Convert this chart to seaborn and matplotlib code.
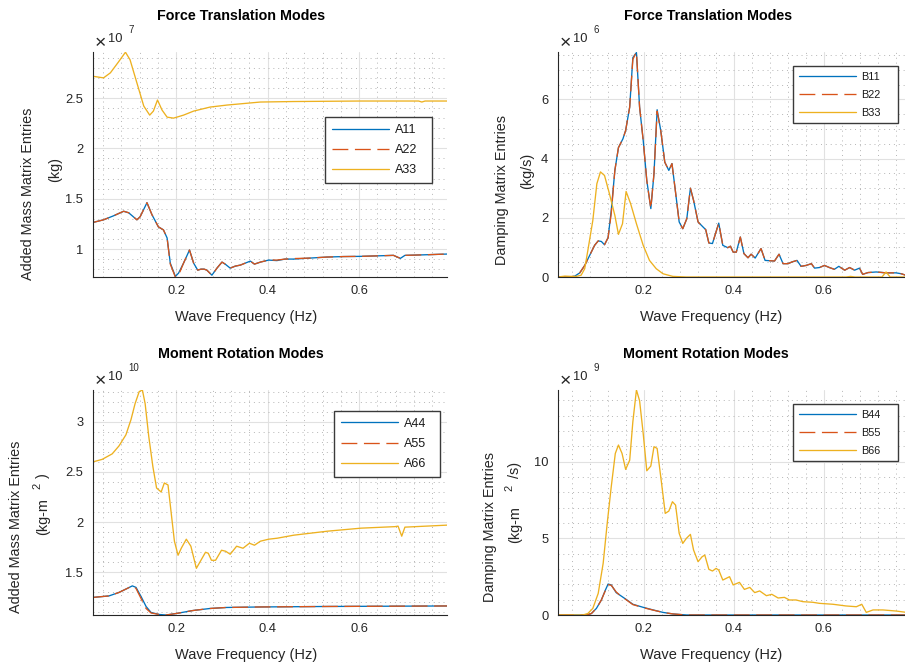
import matplotlib
matplotlib.use("Agg")
import matplotlib.pyplot as plt
import seaborn as sns
from matplotlib.ticker import MultipleLocator, FuncFormatter

# ---------------------------------------------------------------------------
# Hydrodynamic coefficients vs. wave frequency (Hz)
# Added mass translation  [x1e7 kg],   damping translation [x1e6 kg/s]
# Added mass rotation     [x1e10 kg-m^2], damping rotation [x1e9 kg-m^2/s]
# ---------------------------------------------------------------------------
f_a11 = [0.019, 0.041, 0.063, 0.085, 0.096, 0.114, 0.121, 0.136, 0.147, 0.161,
         0.172, 0.180, 0.187, 0.198, 0.205, 0.216, 0.229, 0.238, 0.247, 0.254,
         0.261, 0.267, 0.278, 0.289, 0.300, 0.307, 0.318, 0.329, 0.340, 0.351,
         0.362, 0.371, 0.384, 0.402, 0.420, 0.438, 0.456, 0.493, 0.529, 0.565,
         0.602, 0.640, 0.675, 0.690, 0.700, 0.740, 0.792]
a11 = [1.265, 1.29, 1.33, 1.375, 1.36, 1.29, 1.32, 1.46, 1.34, 1.22,
       1.19, 1.11, 0.86, 0.728, 0.76, 0.86, 0.99, 0.86, 0.79, 0.80,
       0.80, 0.79, 0.74, 0.81, 0.87, 0.85, 0.81, 0.83, 0.84, 0.86,
       0.88, 0.85, 0.87, 0.89, 0.885, 0.90, 0.90, 0.91, 0.92, 0.925,
       0.927, 0.932, 0.937, 0.907, 0.937, 0.942, 0.95]
a22 = [1.265, 1.29, 1.33, 1.375, 1.36, 1.29, 1.32, 1.46, 1.34, 1.22,
       1.19, 1.11, 0.85, 0.722, 0.74, 0.86, 0.99, 0.86, 0.79, 0.80,
       0.80, 0.79, 0.74, 0.81, 0.87, 0.85, 0.81, 0.83, 0.84, 0.86,
       0.88, 0.85, 0.87, 0.89, 0.89, 0.90, 0.905, 0.91, 0.92, 0.925,
       0.927, 0.932, 0.937, 0.907, 0.937, 0.942, 0.95]
f_a33 = [0.019, 0.041, 0.056, 0.074, 0.089, 0.099, 0.114, 0.129, 0.142, 0.150,
         0.159, 0.169, 0.180, 0.194, 0.216, 0.238, 0.274, 0.311, 0.384, 0.456,
         0.602, 0.730, 0.737, 0.744, 0.792]
a33 = [2.715, 2.70, 2.75, 2.86, 2.955, 2.88, 2.65, 2.42, 2.33, 2.37,
       2.48, 2.38, 2.31, 2.30, 2.33, 2.37, 2.41, 2.43, 2.46, 2.465,
       2.47, 2.47, 2.46, 2.47, 2.47]

f_b11 = [0.0096, 0.036, 0.047, 0.058, 0.069, 0.080, 0.091, 0.099, 0.106, 0.113,
         0.121, 0.128, 0.136, 0.144, 0.154, 0.160, 0.169, 0.176, 0.184, 0.191,
         0.199, 0.207, 0.216, 0.223, 0.230, 0.238, 0.247, 0.256, 0.263, 0.270,
         0.279, 0.287, 0.296, 0.304, 0.311, 0.321, 0.332, 0.338, 0.345, 0.353,
         0.367, 0.376, 0.387, 0.393, 0.399, 0.406, 0.415, 0.423, 0.432, 0.439,
         0.448, 0.461, 0.470, 0.491, 0.501, 0.510, 0.521, 0.530, 0.541, 0.550,
         0.561, 0.573, 0.580, 0.591, 0.602, 0.613, 0.624, 0.634, 0.647, 0.658,
         0.669, 0.680, 0.687, 0.699, 0.717, 0.739, 0.761, 0.773, 0.790]
b11 = [0, 0, 0.03, 0.14, 0.39, 0.73, 1.07, 1.22, 1.20, 1.09,
       1.33, 2.25, 3.6, 4.37, 4.67, 4.95, 5.74, 7.41, 7.58, 5.74,
       4.62, 3.26, 2.31, 3.49, 5.65, 4.95, 3.88, 3.6, 3.83, 2.98,
       1.86, 1.63, 1.97, 3.0, 2.59, 1.86, 1.69, 1.60, 1.15, 1.13,
       1.82, 1.07, 0.99, 1.04, 0.84, 0.84, 1.35, 0.79, 0.65, 0.77,
       0.64, 0.96, 0.56, 0.54, 0.77, 0.45, 0.45, 0.51, 0.56, 0.36,
       0.39, 0.45, 0.30, 0.32, 0.39, 0.32, 0.26, 0.36, 0.23, 0.32,
       0.23, 0.30, 0.09, 0.15, 0.17, 0.14, 0.14, 0.11, 0.02]
b22 = [0, 0, 0.03, 0.14, 0.39, 0.73, 1.07, 1.22, 1.20, 1.09,
       1.33, 2.15, 3.6, 4.37, 4.67, 4.95, 5.74, 7.35, 7.60, 5.74,
       4.62, 3.26, 2.31, 3.49, 5.60, 4.95, 3.88, 3.6, 3.83, 2.98,
       1.86, 1.63, 1.97, 3.0, 2.59, 1.86, 1.69, 1.60, 1.15, 1.13,
       1.82, 1.07, 0.99, 1.04, 0.84, 0.84, 1.35, 0.79, 0.65, 0.77,
       0.64, 0.96, 0.56, 0.54, 0.77, 0.45, 0.45, 0.51, 0.56, 0.36,
       0.39, 0.45, 0.30, 0.32, 0.39, 0.32, 0.26, 0.36, 0.23, 0.32,
       0.23, 0.30, 0.09, 0.15, 0.17, 0.14, 0.14, 0.11, 0.02]
f_b33 = [0.0096, 0.025, 0.040, 0.050, 0.061, 0.069, 0.076, 0.087, 0.096, 0.104,
         0.113, 0.124, 0.136, 0.144, 0.153, 0.161, 0.171, 0.184, 0.199, 0.213,
         0.228, 0.243, 0.265, 0.295, 0.400, 0.500, 0.650, 0.660, 0.670, 0.730,
         0.739, 0.748, 0.790]
b33 = [0, 0.03, 0.02, 0.02, 0.06, 0.28, 0.90, 1.91, 3.15, 3.55,
       3.43, 2.81, 2.08, 1.44, 1.80, 2.89, 2.48, 1.80, 1.07, 0.56,
       0.28, 0.11, 0.02, 0, 0, 0, 0, 0.02, 0, 0,
       0.17, 0, 0]

f_a44 = [0.018, 0.053, 0.075, 0.093, 0.104, 0.112, 0.123, 0.134, 0.145, 0.163,
         0.178, 0.200, 0.237, 0.274, 0.310, 0.384, 0.531, 0.792]
a44 = [1.25, 1.265, 1.30, 1.34, 1.365, 1.35, 1.26, 1.16, 1.10, 1.08,
       1.075, 1.09, 1.12, 1.14, 1.15, 1.155, 1.16, 1.165]
a55 = [1.25, 1.265, 1.30, 1.34, 1.365, 1.34, 1.24, 1.14, 1.095, 1.08,
       1.075, 1.09, 1.12, 1.14, 1.15, 1.155, 1.16, 1.165]
f_a66 = [0.018, 0.038, 0.060, 0.075, 0.090, 0.101, 0.110, 0.119, 0.126, 0.132,
         0.140, 0.149, 0.157, 0.167, 0.174, 0.182, 0.189, 0.196, 0.204, 0.211,
         0.222, 0.232, 0.244, 0.254, 0.264, 0.270, 0.277, 0.286, 0.299, 0.308,
         0.318, 0.332, 0.346, 0.360, 0.371, 0.384, 0.402, 0.421, 0.457, 0.494,
         0.531, 0.604, 0.678, 0.685, 0.693, 0.700, 0.792]
a66 = [2.60, 2.625, 2.68, 2.76, 2.87, 3.02, 3.18, 3.30, 3.316, 3.18,
       2.85, 2.55, 2.34, 2.30, 2.39, 2.37, 2.09, 1.81, 1.67, 1.74,
       1.83, 1.76, 1.54, 1.62, 1.70, 1.69, 1.62, 1.62, 1.72, 1.71,
       1.68, 1.76, 1.74, 1.79, 1.77, 1.81, 1.83, 1.84, 1.87, 1.89,
       1.91, 1.94, 1.955, 1.96, 1.86, 1.95, 1.97]

f_b44 = [0.0096, 0.073, 0.084, 0.095, 0.106, 0.115, 0.121, 0.128, 0.139, 0.150,
         0.161, 0.176, 0.199, 0.221, 0.243, 0.265, 0.295, 0.790]
b44 = [0, 0, 0.1, 0.43, 0.98, 1.63, 2.02, 1.96, 1.46, 1.24,
       1.02, 0.70, 0.50, 0.33, 0.17, 0.07, 0, 0]
b55 = [0, 0, 0.1, 0.43, 0.98, 1.60, 1.98, 1.94, 1.50, 1.22,
       1.00, 0.68, 0.48, 0.32, 0.17, 0.07, 0, 0]
f_b66 = [0.0096, 0.065, 0.076, 0.087, 0.099, 0.110, 0.119, 0.128, 0.137, 0.144,
         0.152, 0.160, 0.169, 0.176, 0.184, 0.191, 0.199, 0.207, 0.216, 0.223,
         0.230, 0.239, 0.248, 0.256, 0.264, 0.271, 0.279, 0.287, 0.295, 0.304,
         0.311, 0.321, 0.330, 0.336, 0.345, 0.353, 0.361, 0.367, 0.376, 0.391,
         0.399, 0.413, 0.424, 0.436, 0.447, 0.458, 0.473, 0.485, 0.499, 0.513,
         0.524, 0.539, 0.554, 0.576, 0.591, 0.621, 0.650, 0.673, 0.685, 0.695,
         0.710, 0.732, 0.761, 0.790]
b66 = [0, 0, 0.1, 0.43, 1.41, 3.37, 5.98, 8.37, 10.54, 11.09,
       10.54, 9.5, 10.1, 12.6, 14.68, 13.98, 11.85, 9.41, 9.72, 10.98,
       10.87, 8.80, 6.63, 6.78, 7.39, 7.17, 5.33, 4.67, 5.0, 5.26,
       4.24, 3.48, 3.80, 3.91, 2.98, 2.87, 3.04, 2.93, 2.28, 2.5,
       1.96, 2.13, 1.67, 1.80, 1.46, 1.57, 1.26, 1.35, 1.11, 1.15,
       0.98, 0.98, 0.87, 0.83, 0.76, 0.70, 0.59, 0.54, 0.70, 0.17,
       0.33, 0.33, 0.26, 0.15]

x_ticks = [0.2, 0.4, 0.6]
titles = ["Force Translation Modes", "Force Translation Modes",
          "Moment Rotation Modes", "Moment Rotation Modes"]
xlabel = "Wave Frequency (Hz)"

# ---------------------------------------------------------------------------
BLUE, ORANGE, YELLOW = "#0072BD", "#D95319", "#EDB120"
AX_COL = "#262626"
W, H = 905, 666

sns.set_theme(style="white")
plt.rcParams["font.family"] = ["Liberation Sans", "DejaVu Sans"]
plt.rcParams["axes.unicode_minus"] = False

fig = plt.figure(figsize=(W / 100, H / 100), dpi=100)
fig.patch.set_facecolor("white")


def fx(x):
    return x / W


def fy(y):
    return 1 - y / H


def make_axes(left, top, width, height):
    return fig.add_axes([fx(left), fy(top + height), width / W, height / H])


def style_axes(ax, xlim, ylim, yticks, ymajor, yminor):
    ax.set_xlim(*xlim)
    ax.set_ylim(*ylim)
    ax.set_xticks(x_ticks)
    ax.set_yticks(yticks)
    ax.xaxis.set_minor_locator(MultipleLocator(0.04))
    ax.yaxis.set_minor_locator(MultipleLocator(yminor))
    ax.xaxis.set_major_formatter(FuncFormatter(lambda v, p: f"{v:g}"))
    ax.yaxis.set_major_formatter(FuncFormatter(lambda v, p: f"{v:g}"))
    for side in ("top", "right"):
        ax.spines[side].set_visible(False)
    for side in ("left", "bottom"):
        ax.spines[side].set_color(AX_COL)
        ax.spines[side].set_linewidth(0.8)
    ax.tick_params(which="major", direction="in", length=3.5, width=0.6,
                   colors=AX_COL, labelsize=9.3)
    ax.tick_params(which="minor", direction="in", length=2, width=0.5,
                   colors=AX_COL)
    ax.tick_params(axis="x", which="major", pad=6)
    ax.tick_params(axis="y", which="major", pad=7)
    ax.set_axisbelow(True)
    ax.grid(which="major", color="#e1e1e1", linewidth=0.8, linestyle="-")
    ax.grid(which="minor", color="#b5b5b5", linewidth=0.7,
            linestyle=(0, (1, 4)))
    ax.set_xlabel("")
    ax.set_ylabel("")


def draw_series(ax, series):
    for name, f, v, color, ls in series:
        sns.lineplot(x=f, y=v, ax=ax, color=color, linestyle=ls,
                     linewidth=0.95, estimator=None, sort=False, label=name)


def add_legend(ax, x0, ytop, width, fontsize, spacing, handlelen):
    leg = ax.legend(loc="upper left", bbox_to_anchor=(x0, ytop, width, 0),
                    mode="expand", borderaxespad=0, fontsize=fontsize,
                    frameon=True, fancybox=False, framealpha=1,
                    edgecolor="#3a3a3a", borderpad=0.55,
                    labelspacing=spacing, handlelength=handlelen,
                    handletextpad=0.45)
    leg.get_frame().set_linewidth(1.0)
    for t in leg.get_texts():
        t.set_color("#1a1a1a")


def exponent(left, top, power):
    fig.text(fx(left + 7), fy(top - 8.5), "\u00d7", ha="center",
             va="center", fontsize=14, color=AX_COL)
    fig.text(fx(left + 14.5), fy(top - 10), "10", ha="left", va="baseline",
             fontsize=9.3, color=AX_COL)
    fig.text(fx(left + 35.5), fy(top - 19), power, ha="left", va="baseline",
             fontsize=7, color=AX_COL)


def vtext(x, y, s, size=10.4):
    fig.text(fx(x), fy(y), s, rotation=90, ha="center", va="center",
             fontsize=size, color=AX_COL)


DASH = (0, (12, 5))

# --- Added mass, translation ---
ax1 = make_axes(93, 52, 354, 225)
draw_series(ax1, [("A11", f_a11, a11, BLUE, "-"),
                  ("A22", f_a11, a22, ORANGE, DASH),
                  ("A33", f_a33, a33, YELLOW, "-")])
style_axes(ax1, (0.018, 0.792), (0.722, 2.957), [1, 1.5, 2, 2.5], 0.5, 0.1)
add_legend(ax1, 0.655, 0.711, 0.302, 9, 0.65, 4.6)

# --- Damping, translation ---
ax2 = make_axes(558, 52, 351, 225)
draw_series(ax2, [("B11", f_b11, b11, BLUE, "-"),
                  ("B22", f_b11, b22, ORANGE, DASH),
                  ("B33", f_b33, b33, YELLOW, "-")])
style_axes(ax2, (0.0096, 0.79), (0, 7.6), [0, 2, 4, 6], 2, 0.5)
add_legend(ax2, 0.6695, 0.938, 0.299, 7.8, 0.72, 5.3)

# --- Added mass, rotation ---
ax3 = make_axes(93, 390, 354, 225)
draw_series(ax3, [("A44", f_a44, a44, BLUE, "-"),
                  ("A55", f_a44, a55, ORANGE, DASH),
                  ("A66", f_a66, a66, YELLOW, "-")])
style_axes(ax3, (0.018, 0.792), (1.075, 3.316), [1.5, 2, 2.5, 3], 0.5, 0.1)
add_legend(ax3, 0.681, 0.907, 0.299, 9, 0.65, 4.6)

# --- Damping, rotation ---
ax4 = make_axes(558, 390, 351, 225)
draw_series(ax4, [("B44", f_b44, b44, BLUE, "-"),
                  ("B55", f_b44, b55, ORANGE, DASH),
                  ("B66", f_b66, b66, YELLOW, "-")])
style_axes(ax4, (0.0096, 0.79), (0, 14.68), [0, 5, 10], 5, 1)
add_legend(ax4, 0.6695, 0.938, 0.299, 7.8, 0.72, 5.3)

# Titles and x labels
for (cx, ty, lx, ly), title in zip([(241, 19.5, 246, 321),
                                    (708, 19.5, 711, 321),
                                    (241, 358, 246, 659),
                                    (706, 358, 711, 659)], titles):
    fig.text(fx(cx), fy(ty), title, ha="center", va="baseline",
             fontsize=10.3, fontweight="bold", color="black")
    fig.text(fx(lx), fy(ly), xlabel, ha="center", va="baseline",
             fontsize=10.5, color=AX_COL)

# Scale factors
exponent(93, 52, "7")
exponent(558, 52, "6")
exponent(93, 390, "10")
exponent(558, 390, "9")

# Y labels
vtext(28, 194, "Added Mass Matrix Entries")
vtext(55, 170, "(kg)")
vtext(502, 190, "Damping Matrix Entries")
vtext(527, 171, "(kg/s)")
vtext(16, 527, "Added Mass Matrix Entries")
vtext(43, 517, "(kg-m")
vtext(37, 486, "2", size=8)
vtext(43, 476, ")")
vtext(490, 527, "Damping Matrix Entries")
vtext(515, 525, "(kg-m")
vtext(509, 488, "2", size=8)
vtext(515, 470, "/s)")

fig.savefig("out.png", dpi=100, facecolor="white")
